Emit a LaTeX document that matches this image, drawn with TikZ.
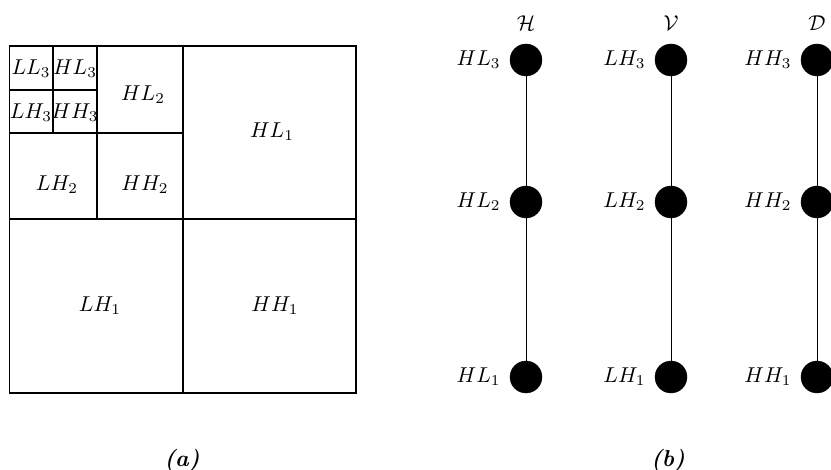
\documentclass[tikz,border=0pt]{standalone}
\newcommand{\lblsz}[1]{\scalebox{2.15}{#1}}
\newcommand{\capsz}[1]{\scalebox{2.3}{\bfseries\itshape #1}}
\begin{document}
\begin{tikzpicture}[x=1pt,y=-1pt,
  lbl/.style={inner sep=0pt},
  dotnode/.style={circle, fill=black, draw=black, minimum size=32pt, inner sep=0pt},
  gridline/.style={line width=1.2pt},
  linkline/.style={line width=1pt},
  captxt/.style={inner sep=0pt}]
\useasboundingbox (0,0) rectangle (831,470);
% (a) decomposition square
\draw[gridline] (9.5,46) rectangle (356,393);
\draw[gridline] (183,46) -- (183,393);
\draw[gridline] (9.5,219) -- (356,219);
\draw[gridline] (97,46) -- (97,219);
\draw[gridline] (9.5,133) -- (183,133);
\draw[gridline] (53,46) -- (53,133);
\draw[gridline] (9.5,90) -- (97,90);
\node[lbl] (ll3) at (31,69) {\lblsz{$LL_3$}};
\node[lbl] (hl3) at (75,69) {\lblsz{$HL_3$}};
\node[lbl] (lh3) at (31,113) {\lblsz{$LH_3$}};
\node[lbl] (hh3) at (75,113) {\lblsz{$HH_3$}};
\node[lbl] (hl2) at (143,95) {\lblsz{$HL_2$}};
\node[lbl] (lh2) at (57,185) {\lblsz{$LH_2$}};
\node[lbl] (hh2) at (145,185) {\lblsz{$HH_2$}};
\node[lbl] (hl1) at (272,132) {\lblsz{$HL_1$}};
\node[lbl] (lh1) at (100,306) {\lblsz{$LH_1$}};
\node[lbl] (hh1) at (275,306) {\lblsz{$HH_1$}};
% (b) trees
\foreach \c/\x/\t/\a/\b/\d in {h/526/H/HL_3/HL_2/HL_1, v/671/V/LH_3/LH_2/LH_1, d/817/D/HH_3/HH_2/HH_1}{
  \node[dotnode] (\c3) at (\x,60) {};
  \node[dotnode] (\c2) at (\x,202) {};
  \node[dotnode] (\c1) at (\x,377) {};
  \draw[linkline] (\c3) -- (\c2);
  \draw[linkline] (\c2) -- (\c1);
  \node[lbl, anchor=east] (\c3l) at ([xshift=-9pt]\c3.west) {\lblsz{$\a$}};
  \node[lbl, anchor=east] (\c2l) at ([xshift=-9pt]\c2.west) {\lblsz{$\b$}};
  \node[lbl, anchor=east] (\c1l) at ([xshift=-9pt]\c1.west) {\lblsz{$\d$}};
  \node[lbl] (\c t) at (\x,23) {\lblsz{$\mathcal{\t}$}};
}
\node[captxt] (capa) at (182,461) {\capsz{(a)}};
\node[captxt] (capb) at (668,461) {\capsz{(b)}};
\end{tikzpicture}
\end{document}
